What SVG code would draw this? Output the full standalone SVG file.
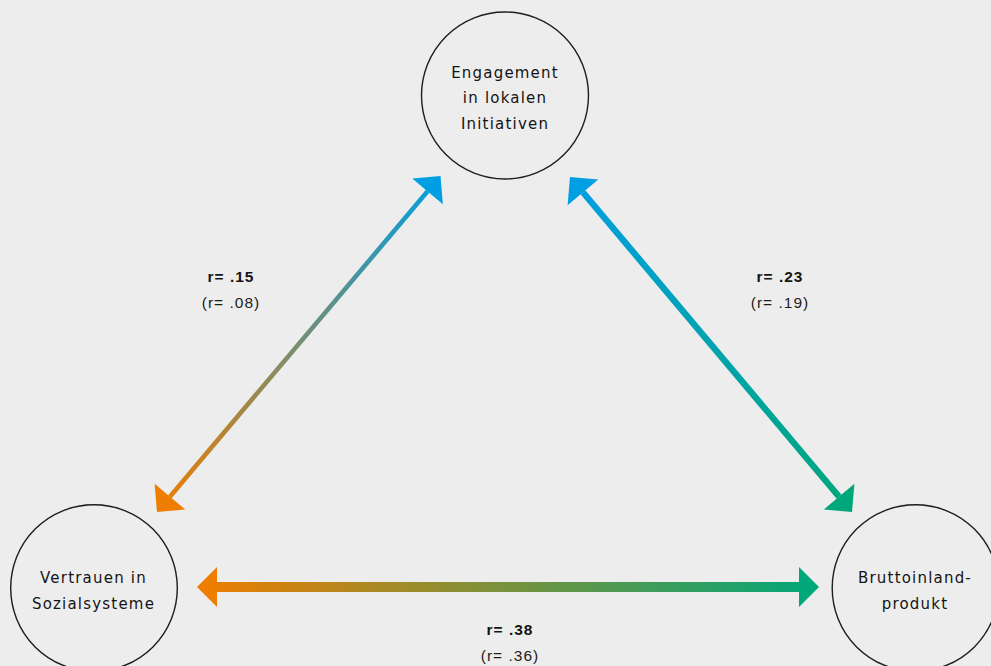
<svg xmlns="http://www.w3.org/2000/svg" width="991" height="666" viewBox="0 0 991 666">
<style>
.node circle{fill:none;stroke:#1d1d1b;stroke-width:1.4}
.ntxt{font-family:"DejaVu Sans","Liberation Sans",sans-serif;font-size:15px;letter-spacing:1.2px;fill:#141414;text-anchor:middle}
.lb{font-family:"Liberation Sans",Arial,sans-serif;font-size:15.5px;font-weight:bold;letter-spacing:1px;fill:#141414;text-anchor:middle}
.lr{font-family:"Liberation Sans",Arial,sans-serif;font-size:15.5px;letter-spacing:1px;fill:#1d1d1b;text-anchor:middle}
</style>
<defs>
<linearGradient id="gL" gradientUnits="userSpaceOnUse" x1="157" y1="512" x2="440.5" y2="176">
<stop offset="0" stop-color="#EF7D00"/><stop offset="1" stop-color="#009FE3"/>
</linearGradient>
<linearGradient id="gR" gradientUnits="userSpaceOnUse" x1="570" y1="177" x2="852" y2="512">
<stop offset="0" stop-color="#009FE3"/><stop offset="1" stop-color="#00A77A"/>
</linearGradient>
<linearGradient id="gB" gradientUnits="userSpaceOnUse" x1="197" y1="587" x2="819" y2="587">
<stop offset="0" stop-color="#EF7D00"/><stop offset="1" stop-color="#00A77A"/>
</linearGradient>
</defs>
<rect width="991" height="666" fill="#EDEDED"/>
<g id="connectors">
<line x1="169.9" y1="496.7" x2="427.6" y2="191.3" stroke="url(#gL)" stroke-width="4.6"/>
<polygon points="157,512 185.2,509.6 154.6,483.8" fill="#EF7D00"/>
<polygon points="440.5,176 412.3,178.4 442.9,204.2" fill="#009FE3"/>
<line x1="582.9" y1="192.3" x2="839.1" y2="496.7" stroke="url(#gR)" stroke-width="6.4"/>
<polygon points="570,177 567.6,205.2 598.2,179.4" fill="#009FE3"/>
<polygon points="852,512 823.8,509.6 854.4,483.8" fill="#00A77A"/>
<line x1="216" y1="587" x2="800" y2="587" stroke="url(#gB)" stroke-width="10"/>
<polygon points="197,587 217,567 217,607" fill="#EF7D00"/>
<polygon points="819,587 799,567 799,607" fill="#00A77A"/>
<text class="lb" x="231" y="282">r= .15</text>
<text class="lr" x="231" y="308">(r= .08)</text>
<text class="lb" x="780" y="282">r= .23</text>
<text class="lr" x="780" y="308">(r= .19)</text>
<text class="lb" x="510" y="635">r= .38</text>
<text class="lr" x="510" y="661">(r= .36)</text>
</g>
<g id="node-engagement" class="node">
<circle cx="505" cy="95.5" r="83.5"/>
<text class="ntxt" x="505" y="77.7">Engagement</text>
<text class="ntxt" x="505" y="103.3">in lokalen</text>
<text class="ntxt" x="505" y="129">Initiativen</text>
</g>
<g id="node-vertrauen" class="node">
<circle cx="94" cy="588" r="83.3"/>
<text class="ntxt" x="93.5" y="582.7">Vertrauen in</text>
<text class="ntxt" x="93.5" y="608.5">Sozialsysteme</text>
</g>
<g id="node-bip" class="node">
<circle cx="915.5" cy="588" r="83.3"/>
<text class="ntxt" x="915" y="582.7">Bruttoinland-</text>
<text class="ntxt" x="915" y="608.5">produkt</text>
</g>
</svg>
